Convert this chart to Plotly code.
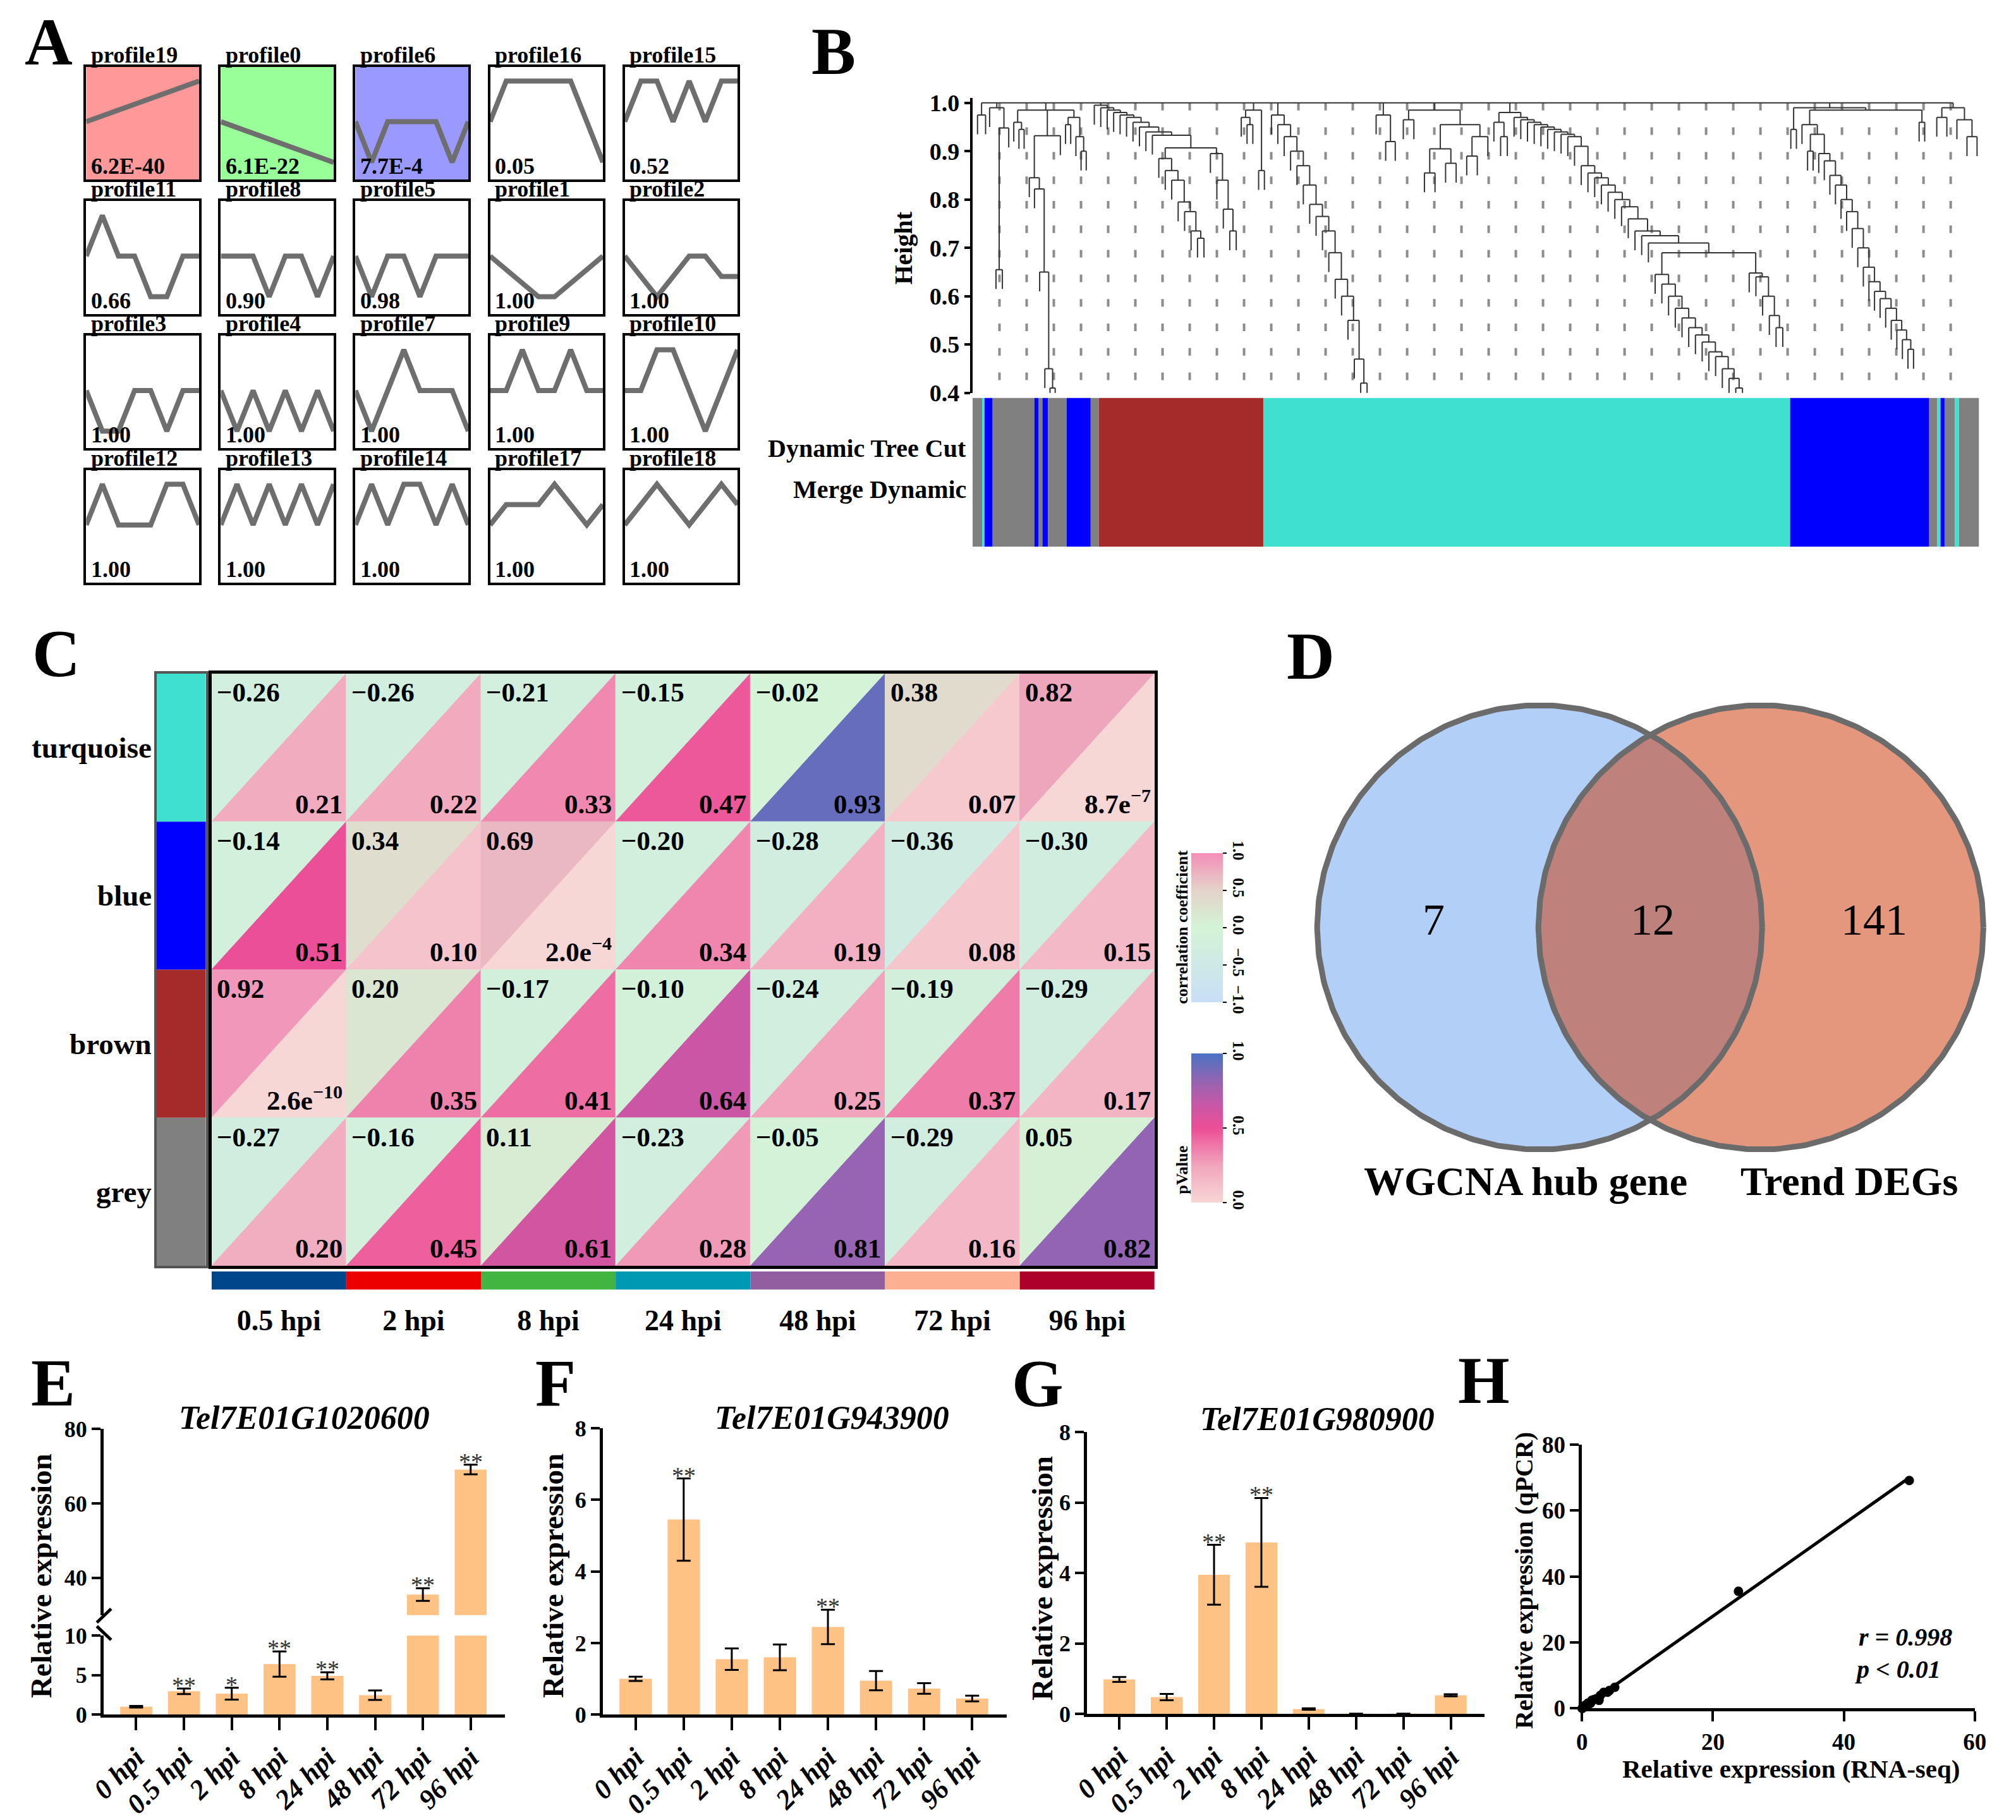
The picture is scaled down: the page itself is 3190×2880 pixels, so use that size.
import numpy as np
import plotly.graph_objects as go
from plotly.colors import sample_colorscale

W, H = 3190, 2880
FONT = "Liberation Serif"

# ======================= DATA =======================
# ---- A: STEM temporal profiles (8 time points, normalised levels) ----
time_index = [0, 1, 2, 3, 4, 5, 6, 7]
profile_grid = [
    ["profile19", "profile0", "profile6", "profile16", "profile15"],
    ["profile11", "profile8", "profile5", "profile1", "profile2"],
    ["profile3", "profile4", "profile7", "profile9", "profile10"],
    ["profile12", "profile13", "profile14", "profile17", "profile18"],
]
profile_pvalues = [
    ["6.2E-40", "6.1E-22", "7.7E-4", "0.05", "0.52"],
    ["0.66", "0.90", "0.98", "1.00", "1.00"],
    ["1.00", "1.00", "1.00", "1.00", "1.00"],
    ["1.00", "1.00", "1.00", "1.00", "1.00"],
]
profile_levels = {
    "profile19": [0, 0.14, 0.29, 0.43, 0.57, 0.71, 0.86, 1],
    "profile0": [0, -0.14, -0.29, -0.43, -0.57, -0.71, -0.86, -1],
    "profile6": [0, -1, 0, 0, 0, 0, -1, 0],
    "profile16": [0, 1, 1, 1, 1, 1, 0, -1],
    "profile15": [0, 1, 1, 0, 1, 0, 1, 1],
    "profile11": [0, 1, 0, 0, -1, -1, 0, 0],
    "profile8": [0, 0, 0, -1, 0, 0, -1, 0],
    "profile5": [0, -1, 0, 0, -1, 0, 0, 0],
    "profile1": [0, -0.33, -0.67, -1, -1, -0.67, -0.33, 0],
    "profile2": [0, -0.5, -1, -0.5, 0, 0, -0.5, -0.5],
    "profile3": [0, -1, -1, 0, 0, -1, 0, 0],
    "profile4": [0, -1, 0, -1, 0, -1, 0, -1],
    "profile7": [0, -1, 0, 1, 0, 0, 0, -1],
    "profile9": [0, 0, 1, 0, 0, 1, 0, 0],
    "profile10": [0, 0, 1, 1, 0, -1, 0, 1],
    "profile12": [0, 1, 0, 0, 0, 1, 1, 0],
    "profile13": [0, 1, 0, 1, 0, 1, 0, 1],
    "profile14": [0, 1, 0, 1, 1, 0, 1, 0],
    "profile17": [0, 0.5, 0.5, 0.5, 1, 0.5, 0, 0.5],
    "profile18": [0, 0.5, 1, 0.5, 0, 0.5, 1, 0.5],
}
profile_fill = {"profile19": "#FF9999", "profile0": "#99FF99", "profile6": "#9999FF"}

# ---- B: WGCNA module colours along the gene order (0-1000 units) ----
module_bounds = [0, 9.6, 12, 20, 61.5, 65.5, 69.5, 75, 93.5, 117.4, 125.4, 289,
                 812.3, 950.5, 958.5, 961.7, 965.7, 976, 980, 1000]
module_seq = ["grey", "turquoise", "blue", "grey", "blue", "grey", "blue", "grey",
              "blue", "grey", "brown", "turquoise", "blue", "grey", "turquoise",
              "blue", "grey", "turquoise", "grey"]
module_hex = {"grey": "#808080", "turquoise": "#40E0D0", "blue": "#0000FF", "brown": "#A52A2A"}


def chain(hs, tail=0):
    node = tail
    for h in reversed(hs):
        node = [h, 0, node]
    return node


# dendrogram clusters: (start, end, nested merge heights; 0 = leaf)
dendro_clusters = [
    (5, 13, [0.975, 0, 0]),
    (17, 36, [0.99, 0, [0.948, [0.655, 0, 0], 0]]),
    (41, 113, [0.985, [0.96, 0, [0.945, 0, 0]],
               [0.932, chain([0.845, 0.822, 0.65, 0.45, 0.41]), 0],
               [0.97, [0.955, 0, 0], [0.93, 0, [0.9, 0, 0]]]]),
    (121, 262, chain([0.995, 0.99, 0.985, 0.98, 0.975, 0.97, 0.96, 0.95, 0.94, 0.933],
                     [0.907, chain([0.885, 0.86, 0.84, 0.795, 0.775, 0.735, 0.72]),
                      chain([0.895, 0.84, 0.78, 0.735])])),
    (267, 290, [0.985, [0.97, 0, [0.955, 0, 0]], [0.86, 0, 0]]),
    (297, 392, [0.975, 0, [0.955, 0, chain([0.93, 0.9, 0.87, 0.83, 0.79, 0.765, 0.735,
                                             0.69, 0.635, 0.6, 0.55, 0.47, 0.42])]]),
    (401, 420, [0.975, 0, [0.92, 0, 0]]),
    (428, 512, [0.985, [0.965, 0, 0],
                [0.955, [0.905, [0.855, 0, 0], [0.875, 0, 0]], [0.93, [0.89, 0, 0], 0]]]),
    (518, 805, [0.98, [0.96, 0, [0.93, 0, 0]],
                chain([0.97, 0.965, 0.96, 0.955, 0.95, 0.945, 0.94, 0.935, 0.93, 0.91,
                       0.87, 0.855, 0.845, 0.83, 0.815, 0.8, 0.785, 0.76, 0.735, 0.725, 0.71],
                      [0.69,
                       chain([0.645, 0.625, 0.6, 0.575, 0.555, 0.535, 0.52, 0.505, 0.485,
                              0.475, 0.45, 0.43, 0.41]),
                       chain([0.648, 0.64, 0.6, 0.56, 0.535])])]),
    (813, 946, [0.99, [0.945, 0, 0],
                [0.985, [0.955, 0, [0.935, [0.9, 0, 0],
                                    chain([0.895, 0.88, 0.85, 0.83, 0.8, 0.775, 0.74, 0.7,
                                           0.66, 0.63, 0.61, 0.595, 0.575, 0.55, 0.53,
                                           0.51, 0.49])]],
                 [0.96, 0, 0]]]),
    (958, 998, [0.99, [0.97, 0, 0], [0.965, 0, [0.93, 0, 0]]]),
]
height_ticks = [0.4, 0.5, 0.6, 0.7, 0.8, 0.9, 1.0]

# ---- C: module-trait relationships ----
modules = ["turquoise", "blue", "brown", "grey"]
module_strip = ["#40E0D0", "#0000FF", "#A52A2A", "#808080"]
traits = ["0.5 hpi", "2 hpi", "8 hpi", "24 hpi", "48 hpi", "72 hpi", "96 hpi"]
trait_colors = ["#00468B", "#ED0000", "#42B540", "#0099B4", "#925E9F", "#FDAF91", "#AD002A"]
corr = [
    [-0.26, -0.26, -0.21, -0.15, -0.02, 0.38, 0.82],
    [-0.14, 0.34, 0.69, -0.20, -0.28, -0.36, -0.30],
    [0.92, 0.20, -0.17, -0.10, -0.24, -0.19, -0.29],
    [-0.27, -0.16, 0.11, -0.23, -0.05, -0.29, 0.05],
]
pval = [
    [0.21, 0.22, 0.33, 0.47, 0.93, 0.07, 8.7e-7],
    [0.51, 0.10, 2.0e-4, 0.34, 0.19, 0.08, 0.15],
    [2.6e-10, 0.35, 0.41, 0.64, 0.25, 0.37, 0.17],
    [0.20, 0.45, 0.61, 0.28, 0.81, 0.16, 0.82],
]
corr_scale = [[0, "#C9DEF7"], [0.5, "#D4F3D6"], [0.75, "#E4D3C9"], [1, "#F48DB7"]]
pval_scale = [[0, "#F7D6D6"], [0.1, "#F4C3CB"], [0.25, "#F1A4BC"], [0.43, "#EE66A0"],
              [0.5, "#EC4E96"], [0.65, "#C957A6"], [0.8, "#9A63B1"], [1, "#4A72C2"]]

# ---- D: Venn ----
venn_counts = [7, 12, 141]
venn_sets = ["WGCNA hub gene", "Trend DEGs"]

# ---- E-G: qRT-PCR ----
hpi = ["0 hpi", "0.5 hpi", "2 hpi", "8 hpi", "24 hpi", "48 hpi", "72 hpi", "96 hpi"]
e_gene = "Tel7E01G1020600"
e_mean = [1.0, 2.95, 2.65, 6.4, 4.9, 2.45, 35.5, 69.1]
e_err = [0.1, 0.35, 0.75, 1.6, 0.45, 0.6, 1.7, 1.3]
e_sig = ["", "**", "*", "**", "**", "", "**", "**"]
f_gene = "Tel7E01G943900"
f_mean = [1.0, 5.45, 1.55, 1.6, 2.45, 0.95, 0.73, 0.45]
f_err = [0.06, 1.15, 0.3, 0.36, 0.48, 0.27, 0.15, 0.08]
f_sig = ["", "**", "", "", "**", "", "", ""]
g_gene = "Tel7E01G980900"
g_mean = [0.98, 0.48, 3.95, 4.87, 0.14, 0.01, 0.01, 0.53]
g_err = [0.07, 0.09, 0.85, 1.26, 0.02, 0.0, 0.0, 0.03]
g_sig = ["", "", "**", "**", "", "", "", ""]

# ---- H: RNA-seq vs qPCR ----
h_rnaseq = [0.6, 2.2, 1.8, 5.0, 3.9, 1.5, 23.9, 50.0,
            0.9, 4.2, 1.3, 0.9, 2.6, 0.5, 0.4, 0.3,
            0.7, 0.2, 2.8, 3.3, 0.1, 0.0, 0.05, 0.4]
h_qpcr = e_mean + f_mean + g_mean
h_stats = ["r = 0.998", "p &lt; 0.01"]

# ======================= FIGURE =======================
fig = go.Figure()
ann, shp = [], []
axis_n = [0]


def add_axes(xpx, ypx, xkw=None, ykw=None):
    axis_n[0] += 1
    n = axis_n[0]
    s = "" if n == 1 else str(n)
    base = dict(showgrid=False, zeroline=False, showticklabels=False, ticks="",
                showline=False, fixedrange=True)
    xd = dict(base, domain=[xpx[0] / W, xpx[1] / W], anchor="y" + s)
    yd = dict(base, domain=[1 - ypx[1] / H, 1 - ypx[0] / H], anchor="x" + s)
    if xkw:
        xd.update(xkw)
    if ykw:
        yd.update(ykw)
    fig.update_layout(**{"xaxis" + s: xd, "yaxis" + s: yd})
    return "x" + s, "y" + s


def font(size, bold=True, italic=False, color="black"):
    d = dict(family=FONT, size=size, color=color)
    d["weight"] = "bold" if bold else "normal"
    if italic:
        d["style"] = "italic"
    return d


def ptext(x, y, text, size, bold=True, italic=False, xanchor="center",
          yanchor="middle", angle=0, color="black"):
    ann.append(dict(x=x / W, y=1 - y / H, xref="paper", yref="paper", text=text,
                    showarrow=False, font=font(size, bold, italic, color),
                    xanchor=xanchor, yanchor=yanchor, textangle=angle))


# panel letters
for letter, (lx, ly) in zip("ABCDEFGH", [(53, 47), (1312, 62), (65, 1030), (2078, 1034),
                                          (60, 2202), (866, 2203), (1640, 2203), (2355, 2198)]):
    ptext(lx, ly, letter, 105)

# ---------------- A ----------------
A_left = [113, 329, 545, 761, 977]
A_top = [87, 303, 519, 735]
A_box = 181
for r, row in enumerate(profile_grid):
    for c, name in enumerate(row):
        x0, y0 = A_left[c], A_top[r]
        frame = dict(showline=True, mirror=True, linecolor="black", linewidth=4)
        xa, ya = add_axes((x0, x0 + A_box), (y0, y0 + A_box),
                          dict(range=[0, 7], **frame), dict(range=[-1.42, 1.35], **frame))
        if name in profile_fill:
            shp.append(dict(type="rect", xref=xa + " domain", yref=ya + " domain",
                            x0=0, x1=1, y0=0, y1=1, fillcolor=profile_fill[name],
                            line_width=0, layer="below"))
        fig.add_trace(go.Scatter(x=time_index, y=profile_levels[name], mode="lines",
                                 line=dict(color="#6E6E6E", width=8),
                                 xaxis=xa, yaxis=ya, hoverinfo="skip"))
        ann.append(dict(xref=xa + " domain", yref=ya + " domain", x=0.03, y=1.0,
                        xanchor="left", yanchor="bottom", text=name, showarrow=False,
                        font=font(36), yshift=-3))
        ann.append(dict(xref=xa + " domain", yref=ya + " domain", x=0.03, y=0.0,
                        xanchor="left", yanchor="bottom", text=profile_pvalues[r][c],
                        showarrow=False, font=font(36), yshift=-1))

# ---------------- B ----------------
B_x = (1535, 3150)
B_px = 776.7  # px per unit height
xa, ya = add_axes(B_x, (145 - 0.01 * B_px, 611), dict(range=[0, 1000]),
                  dict(range=[0.4, 1.01], tickvals=height_ticks, tickformat=".1f",
                       showticklabels=True, showline=True, linewidth=4, linecolor="black",
                       ticks="outside", ticklen=9, tickwidth=4, tickcolor="black",
                       tickfont=font(38)))
# dotted background columns
gx, gy = [], []
for k in range(36):
    xk = 26.8 + 27.0 * k
    gx += [xk, xk, None]
    gy += [1.0, 0.4, None]
fig.add_trace(go.Scatter(x=gx, y=gy, mode="lines", line=dict(color="#8C8C8C", width=4,
                                                             dash="12px,26.8px"),
                         xaxis=xa, yaxis=ya, hoverinfo="skip"))
HANG = 0.04
sx, sy = [], []


def n_leaves(node):
    return 1 if node == 0 else sum(n_leaves(k) for k in node[1:])


def draw(node, pos):
    if node == 0:
        return next(pos), None
    h = node[0]
    kids = [draw(k, pos) for k in node[1:]]
    xs = [k[0] for k in kids]
    sx.extend([min(xs), max(xs), None])
    sy.extend([h, h, None])
    for kx, kh in kids:
        sx.extend([kx, kx, None])
        sy.extend([h, kh if kh is not None else h - HANG, None])
    return (min(xs) + max(xs)) / 2, h


tops = []
for a, b, tree in dendro_clusters:
    n = n_leaves(tree)
    pos = iter(np.linspace(a, b, n)) if n > 1 else iter([(a + b) / 2])
    tops.append(draw(tree, pos))
txs = [t[0] for t in tops]
sx.extend([min(txs), max(txs), None])
sy.extend([1.0, 1.0, None])
for tx, th in tops:
    sx.extend([tx, tx, None])
    sy.extend([1.0, th, None])
fig.add_trace(go.Scatter(x=sx, y=sy, mode="lines", line=dict(color="#333333", width=2),
                         xaxis=xa, yaxis=ya, hoverinfo="skip"))
ptext(1424, 378, "Height", 40, angle=-90)

xa, ya = add_axes(B_x, (619, 858), dict(range=[0, 1000]), dict(range=[0, 1]))
seg_c = [(module_bounds[i] + module_bounds[i + 1]) / 2 for i in range(len(module_seq))]
seg_w = [module_bounds[i + 1] - module_bounds[i] for i in range(len(module_seq))]
fig.add_trace(go.Bar(x=seg_c, y=[1] * len(seg_c), width=seg_w,
                     marker=dict(color=[module_hex[m] for m in module_seq], line_width=0),
                     xaxis=xa, yaxis=ya, hoverinfo="skip"))
ptext(1527, 700, "Dynamic Tree Cut", 40, xanchor="right")
ptext(1527, 766, "Merge Dynamic", 40, xanchor="right")

# ---------------- C ----------------
frame5 = dict(showline=True, mirror=True, linecolor="black", linewidth=5)
xa, ya = add_axes((314, 1827), (1062, 2014), dict(range=[0, 7], **frame5),
                  dict(range=[4, 0], **frame5))
nr, nc = len(modules), len(traits)
corr_cols = sample_colorscale(corr_scale, [(v + 1) / 2 for row in corr for v in row])
pval_cols = sample_colorscale(pval_scale, [v for row in pval for v in row])


def p_label(p):
    if p < 0.01:
        m, e = f"{p:.1e}".split("e")
        return f"{m}e<sup>\u2212{int(e[1:])}</sup>"
    return f"{p:.2f}"


def r_label(v):
    s = f"{abs(v):.2f}"
    return ("\u2212" + s) if v < 0 else s


for r in range(nr):
    for c in range(nc):
        k = r * nc + c
        fig.add_trace(go.Scatter(x=[c, c, c + 1, c], y=[r + 1, r, r, r + 1], mode="lines",
                                 fill="toself", fillcolor=corr_cols[k],
                                 line=dict(color=corr_cols[k], width=1),
                                 xaxis=xa, yaxis=ya, hoverinfo="skip"))
        fig.add_trace(go.Scatter(x=[c, c + 1, c + 1, c], y=[r + 1, r + 1, r, r + 1],
                                 mode="lines", fill="toself", fillcolor=pval_cols[k],
                                 line=dict(color=pval_cols[k], width=1),
                                 xaxis=xa, yaxis=ya, hoverinfo="skip"))
        ann.append(dict(xref=xa, yref=ya, x=c + 0.03, y=r + 0.02, xanchor="left",
                        yanchor="top", text=r_label(corr[r][c]), showarrow=False,
                        font=font(43)))
        ann.append(dict(xref=xa, yref=ya, x=c + 0.98, y=r + 0.99, xanchor="right",
                        yanchor="bottom", text=p_label(pval[r][c]), showarrow=False,
                        font=font(43)))
# colour bars
cb_common = dict(x=1886 / W, xanchor="left", xpad=0, len=240 / H, lenmode="fraction",
                 ypad=0, thickness=50, outlinewidth=0, ticks="outside", ticklen=6,
                 tickwidth=2, tickcolor="black", tickangle=90, tickfont=font(25))
fig.add_trace(go.Scatter(x=[-5, -5], y=[-5, -5], mode="markers", xaxis=xa, yaxis=ya,
                         hoverinfo="skip",
                         marker=dict(color=[-1, 1], cmin=-1, cmax=1, colorscale=corr_scale,
                                     showscale=True,
                                     colorbar=dict(cb_common, y=1 - 1470 / H,
                                                   yanchor="middle",
                                                   tickvals=[-1, -0.5, 0, 0.5, 1],
                                                   ticktext=["\u22121.0", "\u22120.5",
                                                             "0.0", "0.5", "1.0"]))))
fig.add_trace(go.Scatter(x=[-5, -5], y=[-5, -5], mode="markers", xaxis=xa, yaxis=ya,
                         hoverinfo="skip",
                         marker=dict(color=[0, 1], cmin=0, cmax=1, colorscale=pval_scale,
                                     showscale=True,
                                     colorbar=dict(cb_common, y=1 - 1792 / H,
                                                   yanchor="middle",
                                                   tickvals=[0, 0.5, 1],
                                                   ticktext=["0.0", "0.5", "1.0"]))))
ptext(1871, 1470, "correlation coefficient", 26, angle=-90)
ptext(1871, 1860, "pValue", 26, angle=-90)

# module strip
xa, ya = add_axes((226, 305), (1062, 2014),
                  dict(range=[-0.5, 0.5], showline=True, mirror=True, linecolor="#555555",
                       linewidth=4),
                  dict(range=[4, 0], showline=True, mirror=True, linecolor="#555555",
                       linewidth=4))
fig.add_trace(go.Bar(x=[0] * nr, y=[1] * nr, base=list(range(nr)), width=1,
                     marker=dict(color=module_strip, line_width=0),
                     xaxis=xa, yaxis=ya, hoverinfo="skip"))
for r, m in enumerate(modules):
    ptext(220, 1062 + (r + 0.5) * (2014 - 1062) / nr, m, 47, xanchor="right")

# trait bar
xa, ya = add_axes((314, 1827), (2023, 2052),
                  dict(range=[0, 7], tickvals=[c + 0.5 for c in range(nc)], ticktext=traits,
                       showticklabels=True, ticks="outside", ticklen=8,
                       tickcolor="rgba(0,0,0,0)", tickfont=font(46)),
                  dict(range=[0, 1]))
fig.add_trace(go.Bar(x=[c + 0.5 for c in range(nc)], y=[1] * nc, width=1,
                     marker=dict(color=trait_colors, line_width=0),
                     xaxis=xa, yaxis=ya, hoverinfo="skip"))

# ---------------- D ----------------
xa, ya = add_axes((2040, 3190), (1000, 1950), dict(range=[2040, 3190]),
                  dict(range=[1950, 1000]))
cxL, cxR, cy, rad = 2445, 2800, 1470, 357
t = np.linspace(0, 2 * np.pi, 400)
th = np.arccos((cxR - cxL) / 2 / rad)
aL = np.linspace(-th, th, 150)
aR = np.linspace(np.pi - th, np.pi + th, 150)
lens_x = np.concatenate([cxL + rad * np.cos(aL), cxR + rad * np.cos(aR)])
lens_y = np.concatenate([cy + rad * np.sin(aL), cy + rad * np.sin(aR)])
for cx, col in [(cxL, "#B2CFF8"), (cxR, "#E4977D")]:
    fig.add_trace(go.Scatter(x=cx + rad * np.cos(t), y=cy + rad * np.sin(t), mode="lines",
                             fill="toself", fillcolor=col, line=dict(width=0),
                             xaxis=xa, yaxis=ya, hoverinfo="skip"))
fig.add_trace(go.Scatter(x=lens_x, y=lens_y, mode="lines", fill="toself",
                         fillcolor="#BF817C", line=dict(width=0),
                         xaxis=xa, yaxis=ya, hoverinfo="skip"))
for cx in (cxL, cxR):
    fig.add_trace(go.Scatter(x=cx + rad * np.cos(t), y=cy + rad * np.sin(t), mode="lines",
                             line=dict(color="#6B6B6B", width=9),
                             xaxis=xa, yaxis=ya, hoverinfo="skip"))
for cnt, vx in zip(venn_counts, [cxL - 170, (cxL + cxR) / 2 + 4, cxR + 182]):
    ann.append(dict(xref=xa, yref=ya, x=vx, y=cy - 12, text=str(cnt), showarrow=False,
                    font=font(70, bold=False), xanchor="center", yanchor="middle"))
for name, vx in zip(venn_sets, [2422, 2942]):
    ptext(vx, 1878, name, 64)

# ---------------- E / F / G ----------------
XR = [-0.68, 7.72]


def x_vis():
    return dict(type="category", categoryorder="array", categoryarray=hpi, range=XR,
                showline=True, linewidth=5, linecolor="black", ticks="outside", ticklen=20,
                tickwidth=4, tickcolor="black", showticklabels=True, tickangle=-45,
                tickfont=font(44, italic=True))


def x_hidden():
    return dict(type="category", categoryorder="array", categoryarray=hpi, range=XR)


def y_axis(rng, tv):
    return dict(range=rng, tickvals=tv, showline=True, linewidth=5, linecolor="black",
                ticks="outside", ticklen=14, tickwidth=4, tickcolor="black",
                showticklabels=True, tickfont=font(36))


def bars(xa, ya, means, errs):
    fig.add_trace(go.Bar(x=hpi, y=means, width=0.67,
                         error_y=dict(type="data", array=errs, color="black",
                                      thickness=3, width=11),
                         marker=dict(color="#FFC285", line_width=0),
                         xaxis=xa, yaxis=ya, hoverinfo="skip"))


def stars(xa, ya, means, errs, sig, cond=lambda v: True):
    for cat, m, e, s in zip(hpi, means, errs, sig):
        if s and cond(m):
            ann.append(dict(xref=xa, yref=ya, x=cat, y=m + e, text=s, showarrow=False,
                            font=font(38, bold=False, color="#333333"),
                            xanchor="center", yanchor="bottom", yshift=-18))


# E (broken axis)
exl, eyl = add_axes((141, 785), (2608, 2735), x_vis(), y_axis([0, 10], [0, 5, 10]))
bars(exl, eyl, e_mean, e_err)
stars(exl, eyl, e_mean, e_err, e_sig, lambda v: v <= 10)
exu, eyu = add_axes((141, 785), (2276, 2575), x_hidden(), y_axis([30, 80], [40, 60, 80]))
bars(exu, eyu, e_mean, e_err)
stars(exu, eyu, e_mean, e_err, e_sig, lambda v: v > 30)
for (xa0, ya0, xa1, ya1) in [(130, 2587, 153, 2565), (130, 2593, 153, 2615)]:
    shp.append(dict(type="line", xref="paper", yref="paper", x0=xa0 / W, x1=xa1 / W,
                    y0=1 - ya0 / H, y1=1 - ya1 / H, line=dict(color="black", width=5)))
ptext(463, 2258, e_gene, 52, italic=True)
ptext(40, 2512, "Relative expression", 47, angle=-90)

# F
fx, fy = add_axes((942, 1590), (2275, 2735), x_vis(), y_axis([0, 8], [0, 2, 4, 6, 8]))
bars(fx, fy, f_mean, f_err)
stars(fx, fy, f_mean, f_err, f_sig)
ptext(1310, 2258, f_gene, 52, italic=True)
ptext(862, 2512, "Relative expression", 47, angle=-90)

# G
gxa, gya = add_axes((1719, 2357), (2281, 2734), x_vis(), y_axis([0, 8], [0, 2, 4, 6, 8]))
bars(gxa, gya, g_mean, g_err)
stars(gxa, gya, g_mean, g_err, g_sig)
ptext(2088, 2260, g_gene, 52, italic=True)
ptext(1646, 2516, "Relative expression", 47, angle=-90)

# ---------------- H ----------------
hx, hy = add_axes((2513, 3143), (2301, 2725),
                  dict(range=[0, 60], tickvals=[0, 20, 40, 60], showline=True,
                       linewidth=5, linecolor="black", ticks="outside", ticklen=16,
                       tickwidth=4, tickcolor="black", showticklabels=True,
                       tickfont=font(37)),
                  dict(range=[0, 80], tickvals=[0, 20, 40, 60, 80], showline=True,
                       linewidth=5, linecolor="black", ticks="outside", ticklen=14,
                       tickwidth=4, tickcolor="black", showticklabels=True,
                       tickfont=font(37)))
slope, icpt = np.polyfit(h_rnaseq, h_qpcr, 1)
lx = np.array([min(h_rnaseq), max(h_rnaseq)])
fig.add_trace(go.Scatter(x=lx, y=slope * lx + icpt, mode="lines",
                         line=dict(color="black", width=5), xaxis=hx, yaxis=hy,
                         hoverinfo="skip"))
fig.add_trace(go.Scatter(x=h_rnaseq, y=h_qpcr, mode="markers",
                         marker=dict(color="black", size=15), xaxis=hx, yaxis=hy,
                         hoverinfo="skip", cliponaxis=False))
ptext(2955, 2610, h_stats[0], 40, italic=True, xanchor="left")
ptext(2949, 2662, h_stats[1], 40, italic=True, xanchor="left")
ptext(2420, 2520, "Relative expression (qPCR)", 40, angle=-90)
ptext(2848, 2822, "Relative expression (RNA-seq)", 41)

fig.update_layout(width=W, height=H, margin=dict(l=0, r=0, t=0, b=0),
                  paper_bgcolor="white", plot_bgcolor="white", showlegend=False,
                  hovermode=False, annotations=ann, shapes=shp)
fig.write_html(
    "out.html",
    config={"displayModeBar": False, "staticPlot": True},
    post_script=("var gd=document.getElementById('{plot_id}');"
                 "document.body.style.margin='0';document.body.style.overflow='hidden';"
                 "gd.style.position='fixed';gd.style.left='0px';gd.style.top='0px';"),
)
